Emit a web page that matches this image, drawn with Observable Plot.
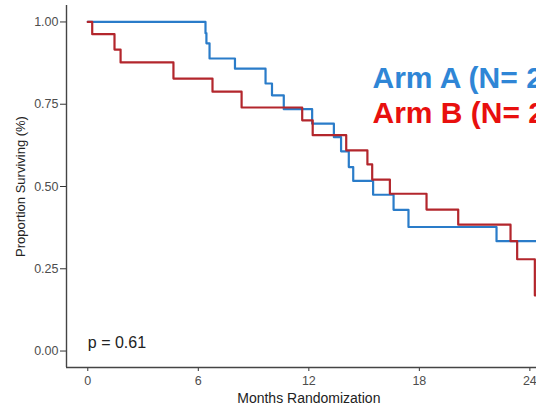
<!DOCTYPE html>
<html>
<head>
<meta charset="utf-8">
<script src="https://cdn.jsdelivr.net/npm/d3@7"></script>
<script src="https://cdn.jsdelivr.net/npm/@observablehq/plot@0.6"></script>
<style>
  html, body { margin: 0; padding: 0; background: #fff; overflow: hidden; }
  #chart { width: 536px; height: 408px; overflow: hidden; }
</style>
</head>
<body>
<div id="chart"></div>
<script>
// Arm A (blue) Kaplan–Meier steps
const timesA = [0, 6.39, 6.44, 6.61, 7.99, 9.65, 10.0, 10.64, 12.18, 13.36, 13.75, 14.17, 14.41, 15.49, 16.6, 17.41, 22.19, 24.6];
const survA  = [1, 0.966, 0.935, 0.889, 0.858, 0.813, 0.777, 0.735, 0.691, 0.650, 0.607, 0.559, 0.517, 0.475, 0.429, 0.377, 0.334, 0.334];
// Arm B (red) Kaplan–Meier steps
const timesB = [0, 0.24, 1.45, 1.78, 4.65, 6.77, 8.35, 11.64, 12.21, 14.03, 15.18, 15.44, 16.4, 18.39, 20.11, 22.95, 23.31, 24.27, 24.6];
const survB  = [1, 0.963, 0.916, 0.877, 0.828, 0.788, 0.740, 0.701, 0.656, 0.610, 0.567, 0.521, 0.478, 0.430, 0.384, 0.334, 0.279, 0.169, 0.169];

const xTicks = [0, 6, 12, 18, 24];
const yTicks = [0, 0.25, 0.5, 0.75, 1];
const armLabels = ["Arm A (N= 27)", "Arm B (N= 24)"];
const armColors = ["#2f86d6", "#e8100e"];
const lineColors = ["#2a7cc9", "#b3262c"];
const pLabel = "p = 0.61";
const xLabel = "Months Randomization";
const yLabel = "Proportion Surviving (%)";

const dataA = timesA.map((t, i) => ({t, s: survA[i]}));
const dataB = timesB.map((t, i) => ({t, s: survB[i]}));

const xMin = -1.156, xMax = 24.36, yMin = -0.05, yMax = 1.05;

const chart = Plot.plot({
  width: 536,
  height: 408,
  marginLeft: 66,
  marginRight: 0,
  marginTop: 5,
  marginBottom: 41,
  style: {fontFamily: "'Liberation Sans', Arial, sans-serif", fontSize: "12px", color: "#4d4d4d", background: "#fff"},
  x: {domain: [xMin, xMax]},
  y: {domain: [yMin, yMax]},
  marks: [
    Plot.axisY({ticks: yTicks, tickFormat: d3.format(".2f"), tickSize: 6, tickPadding: 2, label: null, fontSize: 12.5, stroke: "#333"}),
    Plot.axisX({ticks: xTicks, tickSize: 4, tickPadding: 5, label: null, fontSize: 12.5, stroke: "#333"}),
    Plot.text([yLabel], {frameAnchor: "left", rotate: -90, dx: -46, fontSize: 13, fill: "#222", textAnchor: "middle"}),
    Plot.text([xLabel], {x: [12], frameAnchor: "bottom", dy: 31, fontSize: 14, fill: "#222", lineAnchor: "middle"}),
    Plot.ruleX([xMin], {stroke: "#444", strokeWidth: 1.4}),
    Plot.ruleY([yMin], {stroke: "#444", strokeWidth: 1.4}),
    Plot.line(dataA, {x: "t", y: "s", curve: "step-after", stroke: lineColors[0], strokeWidth: 2.2, clip: true}),
    Plot.line(dataB, {x: "t", y: "s", curve: "step-after", stroke: lineColors[1], strokeWidth: 2.2, clip: true}),
    Plot.text([pLabel], {x: [0], y: [0], textAnchor: "start", lineAnchor: "bottom", dy: -3, fontSize: 16, fill: "#222"}),
    Plot.text([armLabels[0]], {frameAnchor: "top-left", dx: 306, dy: 82, textAnchor: "start", lineAnchor: "bottom", fontSize: 30, fontWeight: "bold", fill: armColors[0]}),
    Plot.text([armLabels[1]], {frameAnchor: "top-left", dx: 306, dy: 117, textAnchor: "start", lineAnchor: "bottom", fontSize: 30, fontWeight: "bold", fill: armColors[1]})
  ]
});
document.getElementById("chart").appendChild(chart);
</script>
</body>
</html>
